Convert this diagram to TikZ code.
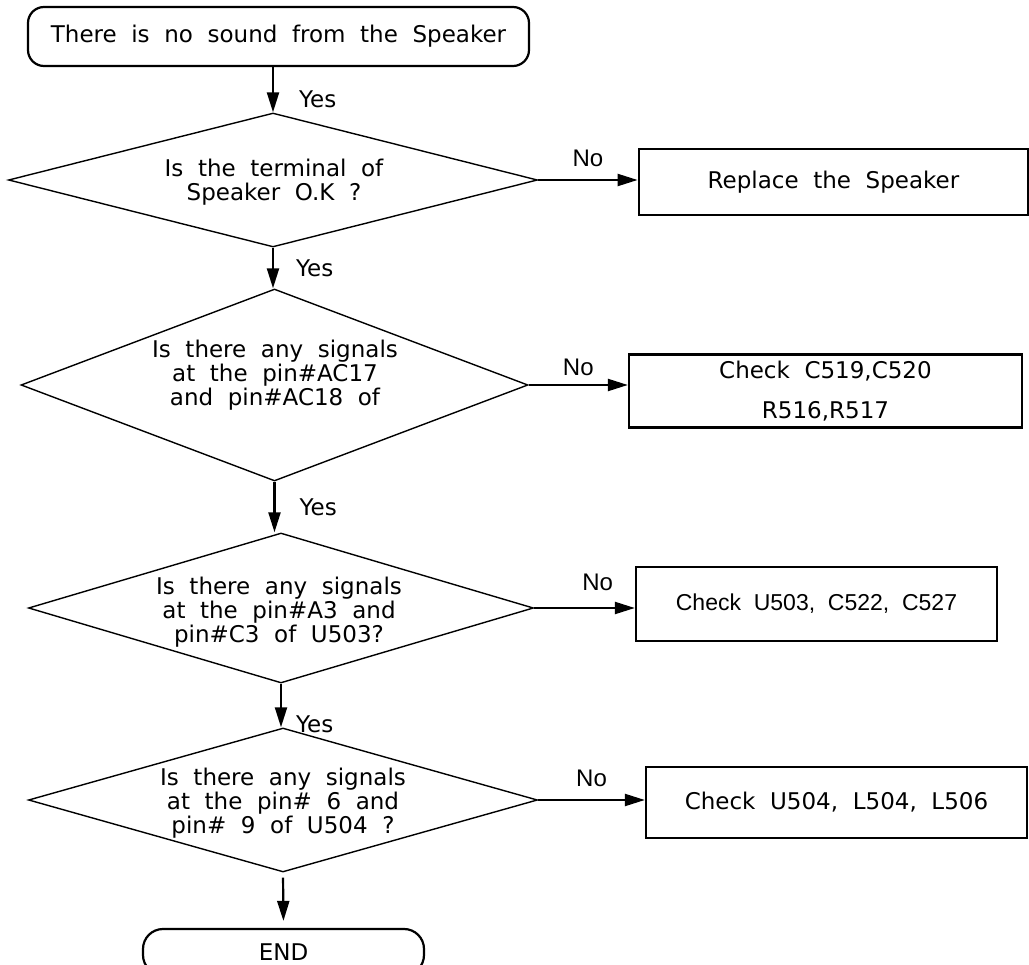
\documentclass[tikz,border=0pt]{standalone}
\usepackage{fontspec}
\setmainfont{DejaVu Sans}[WordSpace=2.0]
\newfontfamily\arialfont{Liberation Sans}[WordSpace=2.0]
\usetikzlibrary{shapes.geometric,arrows.meta}

\begin{document}
\begin{tikzpicture}[x=1pt,y=-1pt,
    txt/.style={font=\fontsize{23}{24}\selectfont},
    rounded box/.style={draw,line width=2.2pt,rounded corners=16pt,inner sep=0pt,txt},
    box/.style={draw,line width=2.3pt,inner sep=0pt,txt},
    decision/.style={diamond,draw,line width=1.4pt,inner sep=0pt},
    qtext/.style={txt,align=center,inner sep=0pt},
    flow/.style={line width=2.2pt,-{Triangle[length=20pt,width=12pt]}},
    yes/.style={txt,anchor=west,inner sep=0pt},
    no/.style={font=\arialfont\fontsize{24}{24}\selectfont,above,inner sep=0pt,yshift=12pt}]
  \useasboundingbox (0,0) rectangle (1029,965);

  \node[rounded box,minimum width=501pt,minimum height=59pt] (start) at (278.5,36.5) {There is no sound from the Speaker};

  \node[decision,minimum width=529pt,minimum height=134pt] (q1) at (273,180) {};
  \node[qtext] (t1) at (274,182) {Is the terminal of\\Speaker O.K ?};
  \node[box,line width=2.8pt,minimum width=389pt,minimum height=66pt] (b1) at (833.5,182) {Replace the Speaker};

  \node[decision,minimum width=507pt,minimum height=192pt] (q2) at (274.5,385) {};
  \node[qtext] (t2) at (275,375) {Is there any signals\\at the pin\#AC17\\and pin\#AC18 of};
  \node[box,align=center,font=\fontsize{23}{40}\selectfont,minimum width=393pt,minimum height=73pt] (b2) at (825.5,391) {Check C519,C520\\R516,R517};

  \node[decision,minimum width=505pt,minimum height=150pt] (q3) at (281,608) {};
  \node[qtext] (t3) at (279,612) {Is there any signals\\at the pin\#A3 and\\pin\#C3 of U503?};
  \node[box,font=\arialfont\fontsize{23}{26}\selectfont,minimum width=361pt,minimum height=74pt] (b3) at (816.5,604) {Check U503, C522, C527};

  \node[decision,minimum width=509pt,minimum height=144pt] (q4) at (283,800) {};
  \node[qtext] (t4) at (283,803) {Is there any signals\\at the pin\# 6 and\\pin\# 9 of U504 ?};
  \node[box,minimum width=381pt,minimum height=71pt] (b4) at (836.5,802.5) {Check U504, L504, L506};

  \node[rounded box,rounded corners=20pt,minimum width=281pt,minimum height=46pt] (end) at (283.5,952) {END};

  \draw[flow] (q1.north |- start.south) -- (q1.north) node[yes,pos=0.72,xshift=25pt] {Yes};
  \draw[flow] (q1.south) -- (q1.south |- q2.north) node[yes,pos=0.5,xshift=22pt] {Yes};
  \draw[flow] (q2.south) -- (q2.south |- q3.north) node[yes,pos=0.5,xshift=24pt] {Yes};
  \draw[flow] (q3.south) -- (q3.south |- q4.north) node[yes,pos=0.92,xshift=14pt] {Yes};
  \draw[flow,shorten <=5pt,shorten >=7pt] (q4.south) -- (end.north);

  \draw[flow] (q1.east) -- (q1.east -| b1.west) node[no,pos=0.5] {No};
  \draw[flow] (q2.east) -- (q2.east -| b2.west) node[no,pos=0.5,yshift=-4pt] {No};
  \draw[flow] (q3.east) -- (q3.east -| b3.west) node[no,pos=0.63,yshift=4pt] {No};
  \draw[flow] (q4.east) -- (q4.east -| b4.west) node[no,pos=0.5] {No};
\end{tikzpicture}
\end{document}
